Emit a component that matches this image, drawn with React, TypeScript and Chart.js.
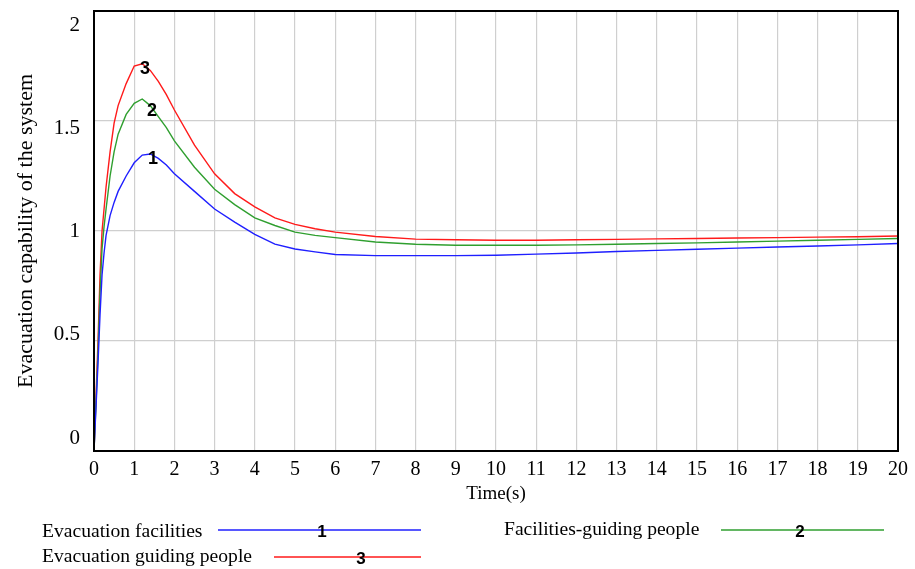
import React, { useEffect, useRef } from "react";
import { Chart, registerables } from "chart.js";

Chart.register(...registerables);

const times = [0, 0.05, 0.1, 0.15, 0.2, 0.25, 0.3, 0.4, 0.5, 0.6, 0.8, 1.0, 1.2, 1.4, 1.6, 1.8, 2.0, 2.5, 3, 3.5, 4, 4.5, 5, 5.5, 6, 7, 8, 9, 10, 11, 12, 13, 14, 15, 16, 17, 18, 19, 20];

const facilities = [0, 0.2, 0.4, 0.62, 0.8, 0.9, 0.98, 1.07, 1.13, 1.18, 1.25, 1.31, 1.345, 1.35, 1.33, 1.3, 1.26, 1.18, 1.1, 1.04, 0.985, 0.94, 0.918, 0.905, 0.893, 0.888, 0.888, 0.888, 0.89, 0.895, 0.9, 0.907, 0.912, 0.917, 0.922, 0.927, 0.932, 0.937, 0.943];
const facilitiesGuiding = [0, 0.22, 0.45, 0.72, 0.92, 1.02, 1.1, 1.25, 1.36, 1.44, 1.53, 1.58, 1.6, 1.57, 1.52, 1.47, 1.41, 1.29, 1.19, 1.12, 1.06, 1.025, 0.995, 0.98, 0.97, 0.95, 0.94, 0.935, 0.935, 0.935, 0.937, 0.94, 0.943, 0.946, 0.95, 0.954, 0.958, 0.962, 0.966];
const guidingPeople = [0, 0.25, 0.5, 0.8, 1.0, 1.1, 1.2, 1.36, 1.49, 1.57, 1.67, 1.75, 1.76, 1.73, 1.68, 1.62, 1.55, 1.39, 1.26, 1.17, 1.11, 1.06, 1.03, 1.01, 0.995, 0.975, 0.963, 0.96, 0.958, 0.958, 0.96, 0.962, 0.964, 0.966, 0.968, 0.97, 0.972, 0.974, 0.977];

const seriesNames = ["Evacuation facilities", "Facilities-guiding people", "Evacuation guiding people"];
const seriesNumbers = ["1", "2", "3"];
const markerTimes = [1.47, 1.44, 1.27];
const seriesColors = ["#1f1fff", "#2f9f2f", "#ff1a1a"];
const yTickValues = [0, 0.5, 1, 1.5, 2];
const yTickLabels = ["0", "0.5", "1", "1.5", "2"];

const xTitle = "Time(s)";
const yTitle = "Evacuation capability of the system";

const SERIF = '"Liberation Serif", "Times New Roman", serif';
const SANS = '"Liberation Sans", Arial, sans-serif';

function interp(t: number, vals: number[]) {
  for (let i = 1; i < times.length; i++) {
    if (t <= times[i]) {
      const f = (t - times[i - 1]) / (times[i] - times[i - 1]);
      return vals[i - 1] + f * (vals[i] - vals[i - 1]);
    }
  }
  return vals[vals.length - 1];
}

const allSeries = [facilities, facilitiesGuiding, guidingPeople];

const decorPlugin = {
  id: "decor",
  afterDatasetsDraw(chart: any) {
    const { ctx, chartArea } = chart;
    const xs = chart.scales.x;
    const ys = chart.scales.y;
    ctx.save();
    ctx.strokeStyle = "#000";
    ctx.lineWidth = 2;
    ctx.strokeRect(chartArea.left, chartArea.top, chartArea.right - chartArea.left, chartArea.bottom - chartArea.top);
    ctx.fillStyle = "#000";
    ctx.font = `bold 18px ${SANS}`;
    ctx.textAlign = "center";
    ctx.textBaseline = "middle";
    allSeries.forEach((vals, i) => {
      const t = markerTimes[i];
      const px = xs.getPixelForValue(t);
      const py = ys.getPixelForValue(interp(t, vals));
      ctx.fillText(seriesNumbers[i], px, py + 3);
    });
    // y tick labels, pulled inward like the original software does
    ctx.font = `21px ${SERIF}`;
    ctx.textAlign = "right";
    ctx.textBaseline = "middle";
    yTickValues.forEach((v, i) => {
      const py = ys.getPixelForValue(v) + (-13 + 13.5 * v);
      ctx.fillText(yTickLabels[i], chartArea.left - 14, py);
    });
    ctx.restore();
  },
  afterDraw(chart: any) {
    const { ctx } = chart;
    ctx.save();
    const items = [
      { s: 0, tx: 42, ty: 532, x1: 218, x2: 421, nx: 322 },
      { s: 1, tx: 504, ty: 530, x1: 721, x2: 884, nx: 800 },
      { s: 2, tx: 42, ty: 557, x1: 274, x2: 421, nx: 361 },
    ];
    items.forEach((it) => {
      ctx.font = `19.6px ${SERIF}`;
      ctx.fillStyle = "#000";
      ctx.textAlign = "left";
      ctx.textBaseline = "middle";
      ctx.fillText(seriesNames[it.s], it.tx, it.ty);
      const ly = it.ty - (it.s === 0 ? 2 : 0);
      ctx.strokeStyle = seriesColors[it.s];
      ctx.lineWidth = 1.5;
      ctx.beginPath();
      ctx.moveTo(it.x1, ly);
      ctx.lineTo(it.x2, ly);
      ctx.stroke();
      ctx.font = `bold 17px ${SANS}`;
      ctx.textAlign = "center";
      ctx.fillText(seriesNumbers[it.s], it.nx, ly + 2);
    });
    ctx.restore();
  },
};

export default function App() {
  const ref = useRef<HTMLCanvasElement>(null);
  useEffect(() => {
    if (!ref.current) return;
    const chart = new Chart(ref.current, {
      type: "line",
      data: {
        labels: times,
        datasets: allSeries.map((vals, i) => ({
          label: seriesNames[i],
          data: vals.map((v, j) => ({ x: times[j], y: v })),
          borderColor: seriesColors[i],
          backgroundColor: seriesColors[i],
          borderWidth: 1.4,
          pointRadius: 0,
          tension: 0,
          fill: false,
        })),
      },
      options: {
        animation: false,
        responsive: false,
        layout: { padding: { left: 0, right: 17, top: 11, bottom: 60 } },
        plugins: { legend: { display: false }, tooltip: { enabled: false } },
        scales: {
          x: {
            type: "linear",
            min: 0,
            max: 20,
            border: { display: false },
            grid: { color: "#cfcfcf", lineWidth: 1.2, drawTicks: false },
            ticks: { stepSize: 1, color: "#000", padding: 7, maxRotation: 0, autoSkip: false, font: { family: SERIF, size: 20 } },
            title: { display: true, text: xTitle, color: "#000", padding: { top: 0, bottom: 4 }, font: { family: SERIF, size: 19 } },
            afterFit: (s: any) => { s.height = 58; s.paddingLeft = 0; s.paddingRight = 0; },
          },
          y: {
            min: 0,
            max: 2,
            border: { display: false },
            grid: { color: "#cfcfcf", lineWidth: 1.2, drawTicks: false },
            ticks: { stepSize: 0.5, display: false },
            title: { display: true, text: yTitle, color: "#000", padding: { top: 13, bottom: 0 }, font: { family: SERIF, size: 22 } },
            afterFit: (s: any) => { s.width = 94; s.paddingTop = 0; s.paddingBottom = 0; },
          },
        },
      },
      plugins: [decorPlugin],
    });
    return () => chart.destroy();
  }, []);
  return (
    <div style={{ position: "fixed", left: 0, top: 0, width: 915, height: 569, background: "#fff" }}>
      <canvas ref={ref} width={915} height={569} />
    </div>
  );
}
